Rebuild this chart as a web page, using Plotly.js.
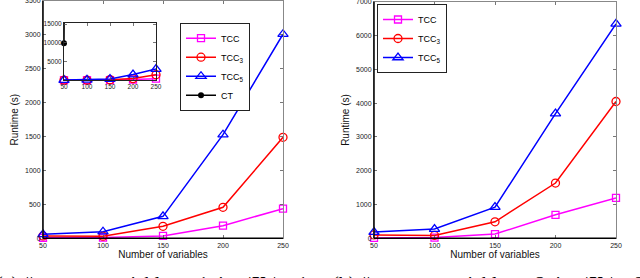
<!DOCTYPE html>
<html><head><meta charset="utf-8">
<script src="https://cdn.plot.ly/plotly-3.0.1.min.js"></script>
<style>html,body{margin:0;padding:0;background:#fff}#c{width:640px;height:278px}</style>
</head><body><div id="c"></div>
<script>
const xVars = [50, 100, 150, 200, 250];
// (a) one constant variable
const tccA  = [8, 10, 35, 186, 437];
const tcc3A = [35, 32, 177, 457, 1490];
const tcc5A = [59, 97, 324, 1528, 3010];
const ctX = [50, 100];
const ctA = [9900, 1000000];
// (b) two constant variables
const tccB  = [10, 20, 126, 694, 1194];
const tcc3B = [100, 85, 488, 1635, 4047];
const tcc5B = [185, 273, 921, 3688, 6344];

const xTicks = [50, 100, 150, 200, 250];
const yTicksA = [0, 500, 1000, 1500, 2000, 2500, 3000, 3500];
const yTicksB = [0, 1000, 2000, 3000, 4000, 5000, 6000, 7000];
const yTicksInset = [5000, 10000, 15000];

const W = 640, H = 278;
const px = v => v / W, py = v => 1 - v / H;

const sTCC = {color: '#ff00ff', symbol: 'square-open', size: 7, line: {width: 1.3}};
const sTCC3 = {color: '#ff0000', symbol: 'circle-open', size: 8, line: {width: 1.3}};
const sTCC5 = {color: '#0000ff', symbol: 'triangle-up-open', size: 9, line: {width: 1.3}};
const sCT = {color: '#000000', symbol: 'circle', size: 6};

function tr(x, y, name, m, xa, ya, lg, show) {
  return {x: x, y: y, name: name, mode: 'lines+markers', type: 'scatter',
    xaxis: xa, yaxis: ya, legend: lg, showlegend: show,
    line: {color: m.color, width: 1.5}, marker: m, cliponaxis: false};
}

const data = [
  tr(xVars, tccA, 'TCC', sTCC, 'x', 'y', 'legend', true),
  tr(xVars, tcc3A, 'TCC<sub>3</sub>', sTCC3, 'x', 'y', 'legend', true),
  tr(xVars, tcc5A, 'TCC<sub>5</sub>', sTCC5, 'x', 'y', 'legend', true),
  tr(ctX, ctA, 'CT', sCT, 'x2', 'y2', 'legend', true),
  tr(xVars, tccA, 'TCC', sTCC, 'x2', 'y2', 'legend', false),
  tr(xVars, tcc3A, 'TCC3', sTCC3, 'x2', 'y2', 'legend', false),
  tr(xVars, tcc5A, 'TCC5', sTCC5, 'x2', 'y2', 'legend', false),
  tr(xVars, tccB, 'TCC', sTCC, 'x3', 'y3', 'legend2', true),
  tr(xVars, tcc3B, 'TCC<sub>3</sub>', sTCC3, 'x3', 'y3', 'legend2', true),
  tr(xVars, tcc5B, 'TCC<sub>5</sub>', sTCC5, 'x3', 'y3', 'legend2', true)
];

const FONT = 'Liberation Sans, Arial, sans-serif';
const tickF = {family: FONT, size: 7, color: '#222'};
const titleF = {family: FONT, size: 10, color: '#111'};

function ax(domain, range, ticks, anchor, extra) {
  return Object.assign({domain: domain, range: range, tickvals: ticks, ticktext: ticks.map(String),
    anchor: anchor, showgrid: false, zeroline: false, showline: true, linecolor: '#888', linewidth: 1,
    mirror: 'ticks', ticks: 'inside', ticklen: 3, tickcolor: '#555', tickwidth: 0.8,
    tickfont: tickF, fixedrange: true, ticklabeloverflow: 'allow'}, extra || {});
}

const layout = {
  width: W, height: H, margin: {l: 0, r: 0, t: 0, b: 0},
  paper_bgcolor: '#fff', plot_bgcolor: 'rgba(0,0,0,0)',
  showlegend: true,
  xaxis: ax([px(43), px(283)], [50, 250], xTicks, 'y',
    {title: {text: 'Number of variables', font: titleF, standoff: 2}}),
  yaxis: ax([py(238.3), py(1)], [0, 3500], yTicksA, 'x',
    {title: {text: 'Runtime (s)', font: titleF, standoff: 4}}),
  xaxis2: ax([px(64), px(156)], [50, 250], xTicks, 'y2',
    {linecolor: '#222', tickfont: {family: FONT, size: 6.5, color: '#222'}}),
  yaxis2: ax([py(80.3), py(22.7)], [0, 15400], yTicksInset, 'x2',
    {linecolor: '#222', tickfont: {family: FONT, size: 6.5, color: '#222'}}),
  xaxis3: ax([px(374), px(616)], [50, 250], xTicks, 'y3',
    {title: {text: 'Number of variables', font: titleF, standoff: 2}}),
  yaxis3: ax([py(238.3), py(1.7)], [0, 7000], yTicksB, 'x3',
    {title: {text: 'Runtime (s)', font: titleF, standoff: 4}}),
  legend: {x: px(180), y: py(22.7), xanchor: 'left', yanchor: 'top',
    bgcolor: '#fff', bordercolor: '#222', borderwidth: 1,
    font: {family: FONT, size: 9, color: '#000'}, itemwidth: 30, tracegroupgap: 0},
  legend2: {x: px(377), y: py(4), xanchor: 'left', yanchor: 'top',
    bgcolor: '#fff', bordercolor: '#222', borderwidth: 1,
    font: {family: FONT, size: 9, color: '#000'}, itemwidth: 30, tracegroupgap: 0},
  shapes: [
    {type: 'line', xref: 'paper', yref: 'paper', x0: px(43), x1: px(43), y0: py(238.3), y1: py(1), line: {color: '#000', width: 1.5}},
    {type: 'line', xref: 'paper', yref: 'paper', x0: px(43), x1: px(283), y0: py(238.3), y1: py(238.3), line: {color: '#000', width: 1.5}},
    {type: 'line', xref: 'paper', yref: 'paper', x0: px(374), x1: px(374), y0: py(238.3), y1: py(1.7), line: {color: '#000', width: 1.5}},
    {type: 'line', xref: 'paper', yref: 'paper', x0: px(374), x1: px(616), y0: py(238.3), y1: py(238.3), line: {color: '#000', width: 1.5}}
  ],
  annotations: [
    {xref: 'paper', yref: 'paper', x: px(152), y: py(270.5), xanchor: 'center', yanchor: 'top', showarrow: false,
     text: '(a) #constant variables = 1, i.e. |<b>X</b><sub>c</sub>| = 1',
     font: {family: 'Liberation Serif, DejaVu Serif, serif', size: 20, color: '#000'}},
    {xref: 'paper', yref: 'paper', x: px(488), y: py(270.5), xanchor: 'center', yanchor: 'top', showarrow: false,
     text: '(b) #constant variables = 2, i.e. |<b>X</b><sub>c</sub>| = 2',
     font: {family: 'Liberation Serif, DejaVu Serif, serif', size: 20, color: '#000'}}
  ]
};

Plotly.newPlot('c', data, layout, {staticPlot: true, displayModeBar: false});
</script></body></html>
